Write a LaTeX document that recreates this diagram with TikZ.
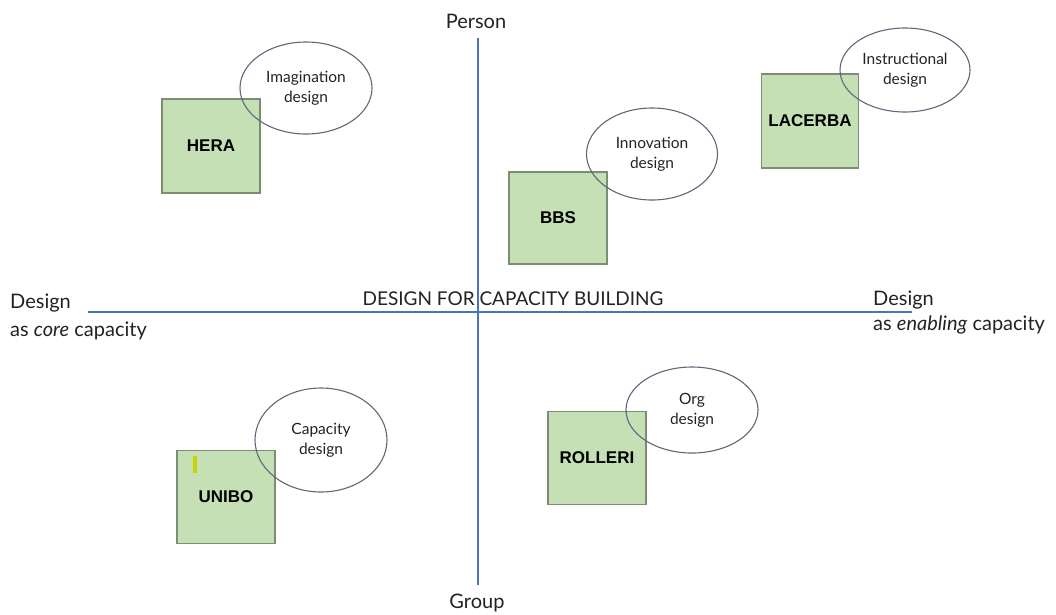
\documentclass[tikz,border=0pt]{standalone}
\usepackage{fontspec}
\setmainfont{Lato}
\newfontfamily\boxfont{Liberation Sans}
\usetikzlibrary{shapes.geometric}
\definecolor{axisblue}{HTML}{4A74C0}
\definecolor{boxfill}{HTML}{C5E0B4}
\definecolor{boxline}{HTML}{7D8C74}
\definecolor{ovalline}{HTML}{5E6878}
\definecolor{ink}{HTML}{222222}
\definecolor{marker}{HTML}{C8D400}
\tikzset{
  orgbox/.style={draw=boxline, fill=boxfill, line width=1.3pt, minimum width=98pt,
    minimum height=93pt, inner sep=0pt, text=black,
    font=\boxfont\bfseries\fontsize{17}{19}\selectfont},
  oval/.style={ellipse, draw=ovalline, line width=1.1pt, inner sep=0pt, align=center,
    text=ink, font=\fontsize{15.5}{20}\selectfont},
  axis/.style={draw=axisblue, line width=1.4pt},
  axlabel/.style={text=ink, font=\fontsize{20}{22}\selectfont, inner sep=0pt},
  titlelabel/.style={text=ink, font=\fontsize{19}{22}\selectfont, inner sep=0pt}
}
\begin{document}
\begin{tikzpicture}[x=1pt, y=-1pt]
\useasboundingbox (0,0) rectangle (1056,614);

% axes
\coordinate (top) at (478,38);
\coordinate (bottom) at (478,585);
\coordinate (left) at (88,312);
\coordinate (right) at (912,312);
\draw[axis] (top) -- (bottom);
\draw[axis] (left) -- (right);

% axis labels
\node[axlabel] (person) at (476,21) {Person};
\node[axlabel] (group) at (477,603) {Group};
\node[axlabel, anchor=base west] (lcore1) at (10,308) {Design};
\node[axlabel, anchor=base west] (lcore2) at (10,336) {as \textit{core} capacity};
\node[axlabel, anchor=base west] (renab1) at (873,305) {Design};
\node[axlabel, anchor=base west] (renab2) at (873,330) {as \textit{enabling} capacity};
\node[titlelabel] (title) at (513,299) {DESIGN FOR CAPACITY BUILDING};

% organisations
\node[orgbox, minimum height=94pt] (hera) at (211,146) {HERA};
\node[orgbox, minimum width=97pt, minimum height=94pt] (lacerba) at (810,121) {LACERBA};
\node[orgbox, minimum height=92pt] (bbs) at (558,218) {BBS};
\node[orgbox] (rolleri) at (597,458) {ROLLERI};
\node[orgbox] (unibo) at (226,497) {UNIBO};
\fill[marker] (193,456) rectangle (197,473);

% design approaches
\node[oval, minimum width=132pt, minimum height=92pt] (imag) at (306,88) {Imagination\\design};
\node[oval, minimum width=130pt, minimum height=84pt] (instr) at (905,70) {Instructional\\design};
\node[oval, minimum width=131pt, minimum height=92pt] (innov) at (652,154) {Innovation\\design};
\node[oval, minimum width=132pt, minimum height=86pt] (org) at (692,410) {Org\\design};
\node[oval, minimum width=132pt, minimum height=104pt] (capac) at (321,440) {Capacity\\design};
\end{tikzpicture}
\end{document}
